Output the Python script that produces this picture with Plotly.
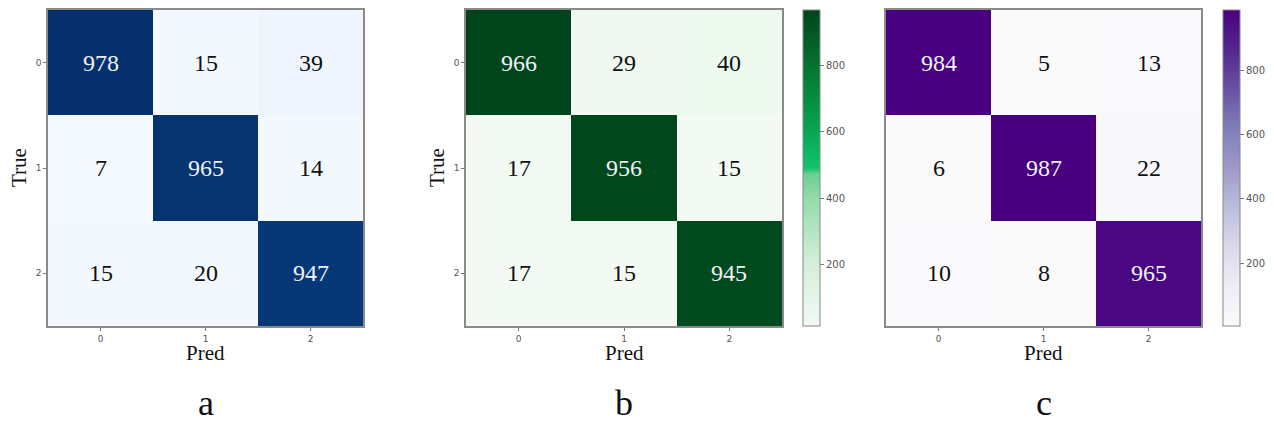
import plotly.graph_objects as go

# ---- data ----
classes = [0, 1, 2]
tick_labels = ["0", "1", "2"]
panel_labels = ["a", "b", "c"]

cm_a = [[978, 15, 39],
        [7, 965, 14],
        [15, 20, 947]]
cm_b = [[966, 29, 40],
        [17, 956, 15],
        [17, 15, 945]]
cm_c = [[984, 5, 13],
        [6, 987, 22],
        [10, 8, 965]]
cbar_ticks = [200, 400, 600, 800]

# ---- styling ----
W, H = 1274, 427
blues = [[0.0, '#f4f9fe'], [0.125, '#deebf7'], [0.25, '#c6dbef'], [0.375, '#9ecae1'],
         [0.5, '#6baed6'], [0.625, '#4292c6'], [0.75, '#2171b5'], [0.875, '#08519c'],
         [1.0, '#05306c']]
greens = [[0.0, '#f2faf3'], [0.2, '#d4efda'], [0.4, '#95dbab'], [0.48, '#6ccf91'],
          [0.5, '#12c46c'], [0.62, '#07a553'], [0.82, '#067432'], [1.0, '#00441b']]
purples = [[0.0, '#fafafb'], [0.125, '#efedf5'], [0.25, '#dadaeb'], [0.375, '#bcbddc'],
           [0.5, '#9e9ac8'], [0.625, '#807dba'], [0.75, '#6a51a3'], [0.875, '#54278f'],
           [1.0, '#48007f']]

panels = [
    dict(z=cm_a, cs=blues, x0=48, x1=363, cbar=None, ylab=True),
    dict(z=cm_b, cs=greens, x0=466, x1=782, cbar=803, ylab=True),
    dict(z=cm_c, cs=purples, x0=886, x1=1201, cbar=1223, ylab=False),
]
top_px, bot_px = 10, 326

def px_x(p):
    return p / W

def px_y(p):
    return 1 - p / H

fig = go.Figure()
annotations = []
serif = "Liberation Serif, Times New Roman, serif"
sans = "DejaVu Sans, sans-serif"

for i, p in enumerate(panels):
    n = "" if i == 0 else str(i + 1)
    xa, ya = "x" + n, "y" + n
    z = p["z"]
    zmax = max(max(r) for r in z)
    trace = go.Heatmap(
        z=z, x=classes, y=classes, colorscale=p["cs"],
        xaxis=xa, yaxis=ya, xgap=0, ygap=0,
        showscale=p["cbar"] is not None, hoverinfo="z",
    )
    if p["cbar"] is not None:
        trace.colorbar = dict(
            x=px_x(p["cbar"]), xanchor="left", xpad=0, ypad=0, thickness=17,
            lenmode="pixels", len=bot_px - top_px,
            y=px_y((top_px + bot_px) / 2), yanchor="middle",
            outlinewidth=1, outlinecolor="#888",
            tickvals=cbar_ticks, ticks="outside", ticklen=4, tickcolor="#777",
            tickfont=dict(family=sans, size=10, color="#555"),
        )
    fig.add_trace(trace)

    fig.update_layout({
        "xaxis" + n: dict(domain=[px_x(p["x0"]), px_x(p["x1"])], anchor=ya,
                          range=[-0.5, 2.5], tickvals=classes, ticktext=tick_labels,
                          ticks="outside", ticklen=3, tickcolor="#777",
                          tickfont=dict(family=sans, size=9, color="#555"),
                          showline=True, mirror=True, linecolor="#8a8a8a", linewidth=1.5,
                          showgrid=False, zeroline=False, fixedrange=True),
        "yaxis" + n: dict(domain=[px_y(bot_px), px_y(top_px)], anchor=xa,
                          range=[2.5, -0.5], tickvals=classes,
                          ticktext=tick_labels if p["ylab"] else ["", "", ""],
                          ticks="outside" if p["ylab"] else "", ticklen=3, tickcolor="#777",
                          tickfont=dict(family=sans, size=9, color="#555"),
                          showline=True, mirror=True, linecolor="#8a8a8a", linewidth=1.5,
                          showgrid=False, zeroline=False, fixedrange=True),
    })

    # cell values
    for r, row in enumerate(z):
        for c, v in enumerate(row):
            annotations.append(dict(
                x=classes[c], y=classes[r], xref=xa, yref=ya, text=str(v),
                showarrow=False,
                font=dict(family=serif, size=24,
                          color="#eef2f8" if v > zmax / 2 else "#111111"),
            ))

    cx = px_x((p["x0"] + p["x1"]) / 2)
    annotations.append(dict(x=cx, y=px_y(353), xref="paper", yref="paper", text="Pred",
                            showarrow=False, xanchor="center", yanchor="middle",
                            font=dict(family=serif, size=21, color="#111")))
    annotations.append(dict(x=cx, y=px_y(403), xref="paper", yref="paper",
                            text=panel_labels[i], showarrow=False,
                            xanchor="center", yanchor="middle",
                            font=dict(family=serif, size=36, color="#111")))
    if p["ylab"]:
        annotations.append(dict(x=px_x(p["x0"] - 29), y=px_y(168), xref="paper", yref="paper",
                                text="True", textangle=-90, showarrow=False,
                                xanchor="center", yanchor="middle",
                                font=dict(family=serif, size=21, color="#111")))

fig.update_layout(
    width=W, height=H, autosize=False,
    margin=dict(l=0, r=0, t=0, b=0),
    paper_bgcolor="white", plot_bgcolor="white",
    annotations=annotations,
)

fig.write_html("out.html", config={"displayModeBar": False},
               post_script="document.body.style.margin='0';document.body.style.overflow='hidden';")
